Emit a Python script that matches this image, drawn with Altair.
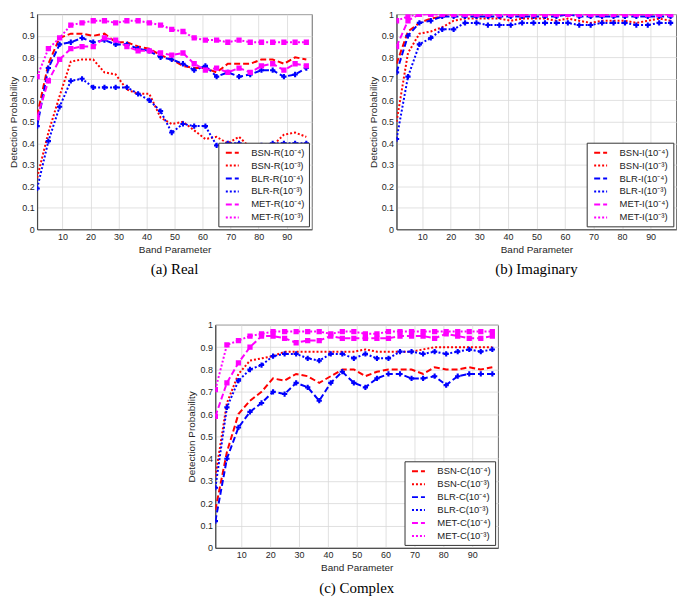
import altair as alt
import pandas as pd

x_vals = list(range(1, 98, 4))

# Panel (a) Real
real_bsn4 = [0.53, 0.77, 0.89, 0.91, 0.91, 0.90, 0.91, 0.87, 0.87, 0.85, 0.84, 0.81, 0.79,
             0.76, 0.75, 0.75, 0.73, 0.77, 0.77, 0.77, 0.79, 0.79, 0.77, 0.80, 0.79]
real_bsn3 = [0.24, 0.45, 0.62, 0.78, 0.79, 0.79, 0.73, 0.72, 0.65, 0.63, 0.63, 0.52, 0.49,
             0.50, 0.46, 0.42, 0.43, 0.40, 0.43, 0.38, 0.38, 0.39, 0.44, 0.45, 0.43]
real_blr4 = [0.48, 0.75, 0.86, 0.87, 0.89, 0.87, 0.88, 0.86, 0.86, 0.84, 0.83, 0.80, 0.79,
             0.77, 0.74, 0.76, 0.71, 0.73, 0.71, 0.72, 0.74, 0.74, 0.71, 0.72, 0.75]
real_blr3 = [0.19, 0.41, 0.57, 0.69, 0.70, 0.66, 0.66, 0.66, 0.66, 0.63, 0.60, 0.55, 0.45,
             0.49, 0.48, 0.48, 0.39, 0.40, 0.40, 0.38, 0.39, 0.40, 0.40, 0.40, 0.40]
real_met4 = [0.52, 0.69, 0.79, 0.84, 0.85, 0.85, 0.89, 0.88, 0.85, 0.83, 0.83, 0.82, 0.81,
             0.82, 0.77, 0.74, 0.75, 0.73, 0.75, 0.73, 0.76, 0.77, 0.74, 0.77, 0.76]
real_met3 = [0.71, 0.84, 0.89, 0.95, 0.96, 0.97, 0.97, 0.96, 0.97, 0.97, 0.96, 0.95, 0.93,
             0.92, 0.89, 0.88, 0.88, 0.87, 0.88, 0.87, 0.87, 0.87, 0.87, 0.87, 0.87]

# Panel (b) Imaginary
imag_bsn4 = [0.77, 0.92, 0.96, 0.98, 0.99, 1.00, 1.00, 1.00, 1.00, 1.00, 1.00, 1.00, 1.00,
             1.00, 1.00, 1.00, 1.00, 1.00, 1.00, 1.00, 1.00, 1.00, 1.00, 1.00, 1.00]
imag_bsn3 = [0.50, 0.82, 0.91, 0.92, 0.94, 0.97, 0.98, 0.98, 0.98, 0.98, 0.97, 0.98, 0.98,
             0.98, 0.97, 0.98, 0.97, 0.96, 0.97, 0.97, 0.97, 0.96, 0.97, 0.98, 0.97]
imag_blr4 = [0.73, 0.90, 0.96, 0.97, 0.99, 0.99, 0.99, 0.99, 0.99, 0.99, 0.99, 0.99, 0.99,
             0.99, 0.99, 1.00, 0.99, 0.99, 0.99, 0.99, 0.99, 0.99, 0.99, 0.99, 0.99]
imag_blr3 = [0.42, 0.71, 0.86, 0.89, 0.93, 0.93, 0.96, 0.96, 0.95, 0.95, 0.95, 0.96, 0.96,
             0.96, 0.96, 0.96, 0.95, 0.95, 0.96, 0.96, 0.96, 0.95, 0.95, 0.96, 0.96]
imag_met4 = [0.85, 0.97, 1.00, 1.00, 1.00, 1.00, 1.00, 1.00, 1.00, 1.00, 1.00, 1.00, 1.00,
             1.00, 1.00, 1.00, 1.00, 1.00, 1.00, 1.00, 1.00, 1.00, 1.00, 1.00, 1.00]
imag_met3 = [0.97, 0.99, 1.00, 1.00, 1.00, 1.00, 1.00, 1.00, 1.00, 1.00, 1.00, 1.00, 1.00,
             1.00, 1.00, 1.00, 1.00, 1.00, 1.00, 1.00, 1.00, 1.00, 1.00, 1.00, 1.00]

# Panel (c) Complex
cplx_bsn4 = [0.17, 0.43, 0.60, 0.66, 0.70, 0.76, 0.75, 0.78, 0.77, 0.74, 0.77, 0.80, 0.80,
             0.77, 0.79, 0.80, 0.80, 0.80, 0.78, 0.81, 0.80, 0.80, 0.81, 0.80, 0.81]
cplx_bsn3 = [0.32, 0.65, 0.78, 0.84, 0.85, 0.86, 0.88, 0.88, 0.88, 0.88, 0.88, 0.88, 0.88,
             0.89, 0.88, 0.88, 0.88, 0.88, 0.89, 0.90, 0.90, 0.90, 0.90, 0.90, 0.90]
cplx_blr4 = [0.12, 0.40, 0.54, 0.61, 0.65, 0.70, 0.69, 0.74, 0.72, 0.66, 0.74, 0.79, 0.74,
             0.72, 0.76, 0.78, 0.78, 0.76, 0.76, 0.77, 0.73, 0.77, 0.78, 0.78, 0.78]
cplx_blr3 = [0.27, 0.63, 0.75, 0.80, 0.82, 0.86, 0.87, 0.87, 0.85, 0.84, 0.87, 0.87, 0.85,
             0.87, 0.85, 0.85, 0.88, 0.88, 0.87, 0.88, 0.87, 0.88, 0.89, 0.88, 0.89]
cplx_met4 = [0.59, 0.74, 0.83, 0.90, 0.95, 0.95, 0.94, 0.92, 0.93, 0.93, 0.95, 0.94, 0.94,
             0.94, 0.94, 0.94, 0.95, 0.95, 0.95, 0.94, 0.96, 0.95, 0.94, 0.94, 0.95]
cplx_met3 = [0.71, 0.91, 0.93, 0.95, 0.96, 0.97, 0.97, 0.97, 0.97, 0.97, 0.96, 0.97, 0.97,
             0.96, 0.96, 0.97, 0.97, 0.97, 0.97, 0.97, 0.97, 0.97, 0.97, 0.97, 0.97]

algs = ["BSN", "BLR", "MET"]
levels = ["\u207b\u2074", "\u207b\u00b3"]  # ⁻⁴, ⁻³
alg_colors = {"BSN": "#ff0000", "BLR": "#0000ff", "MET": "#ff00ff"}
alg_markers = {"BSN": "none", "BLR": "cross", "MET": "square"}
level_dash = [[6, 3], [2, 2]]

x_ticks = list(range(10, 100, 10))
y_ticks = [round(i / 10, 1) for i in range(11)]

SANS = "Liberation Sans"
SERIF = "Liberation Serif"


def panel(series, suffix, caption, w, h):
    rows = []
    order, colors, dashes = [], [], []
    for alg in algs:
        for li, lvl in enumerate(levels):
            name = f"{alg}-{suffix}(10{lvl})"
            order.append(name)
            colors.append(alg_colors[alg])
            dashes.append(level_dash[li])
            for xv, yv in zip(x_vals, series[(alg, li)]):
                rows.append({"x": xv, "y": yv, "series": name, "marker": alg_markers[alg]})
    df = pd.DataFrame(rows)

    legend = alt.Legend(
        title=None, orient="bottom-right", offset=3, fillColor="white",
        strokeColor="#333333", padding=4, labelFont=SANS, labelFontSize=9.5,
        labelColor="#222222", symbolType="M-0.5,0H2.1", symbolStrokeWidth=2,
        symbolSize=100, rowPadding=2, labelOffset=17,
    )
    xenc = alt.X("x:Q", scale=alt.Scale(domain=[1, 99], nice=False, zero=False),
                 axis=alt.Axis(values=x_ticks, title="Band Parameter",
                               labelOverlap=False))
    yenc = alt.Y("y:Q", scale=alt.Scale(domain=[0, 1], nice=False),
                 axis=alt.Axis(values=y_ticks, format="~g",
                               title="Detection Probability", labelOverlap=False))
    base = alt.Chart(df)
    line = base.mark_line(strokeWidth=2, clip=True).encode(
        x=xenc, y=yenc,
        color=alt.Color("series:N", scale=alt.Scale(domain=order, range=colors),
                        legend=legend, sort=order),
        strokeDash=alt.StrokeDash("series:N", scale=alt.Scale(domain=order, range=dashes),
                                  legend=legend, sort=order),
    )
    pts = base.transform_filter(alt.datum.marker != "none").mark_point(
        filled=True, size=28, opacity=1, clip=True).encode(
        x=xenc, y=yenc,
        color=alt.Color("series:N", scale=alt.Scale(domain=order, range=colors), legend=None),
        shape=alt.Shape("marker:N", scale=alt.Scale(domain=["cross", "square"],
                                                     range=["cross", "square"]), legend=None),
    )
    return alt.layer(line, pts).properties(
        width=w, height=h,
        title=alt.TitleParams(caption, orient="bottom", font=SERIF, fontSize=15,
                              fontWeight="normal", color="#000000", offset=8),
    )


pa = panel({("BSN", 0): real_bsn4, ("BSN", 1): real_bsn3, ("BLR", 0): real_blr4,
            ("BLR", 1): real_blr3, ("MET", 0): real_met4, ("MET", 1): real_met3},
           "R", "(a) Real", 276, 216)
pb = panel({("BSN", 0): imag_bsn4, ("BSN", 1): imag_bsn3, ("BLR", 0): imag_blr4,
            ("BLR", 1): imag_blr3, ("MET", 0): imag_met4, ("MET", 1): imag_met3},
           "I", "(b) Imaginary", 281, 216)
pc = panel({("BSN", 0): cplx_bsn4, ("BSN", 1): cplx_bsn3, ("BLR", 0): cplx_blr4,
            ("BLR", 1): cplx_blr3, ("MET", 0): cplx_met4, ("MET", 1): cplx_met3},
           "C", "(c) Complex", 284, 224)

top = alt.hconcat(pa, pb, spacing=55).resolve_scale(
    color="independent", strokeDash="independent", shape="independent")
chart = alt.vconcat(top, pc, spacing=42, center=True).resolve_scale(
    color="independent", strokeDash="independent", shape="independent"
).properties(padding=0).configure_view(
    stroke="#444444", strokeWidth=0.8
).configure_axis(
    labelFont=SANS, labelFontSize=9, labelColor="#262626", titleFont=SANS,
    titleFontSize=10, titleFontWeight="normal", titleColor="#262626",
    domainColor="#444444", tickSize=0, labelPadding=3, titlePadding=3,
    gridColor="#d9d9d9", gridWidth=0.8, labelOverlap=False,
)

chart.save("out.html", embed_options={"renderer": "svg", "actions": False})
